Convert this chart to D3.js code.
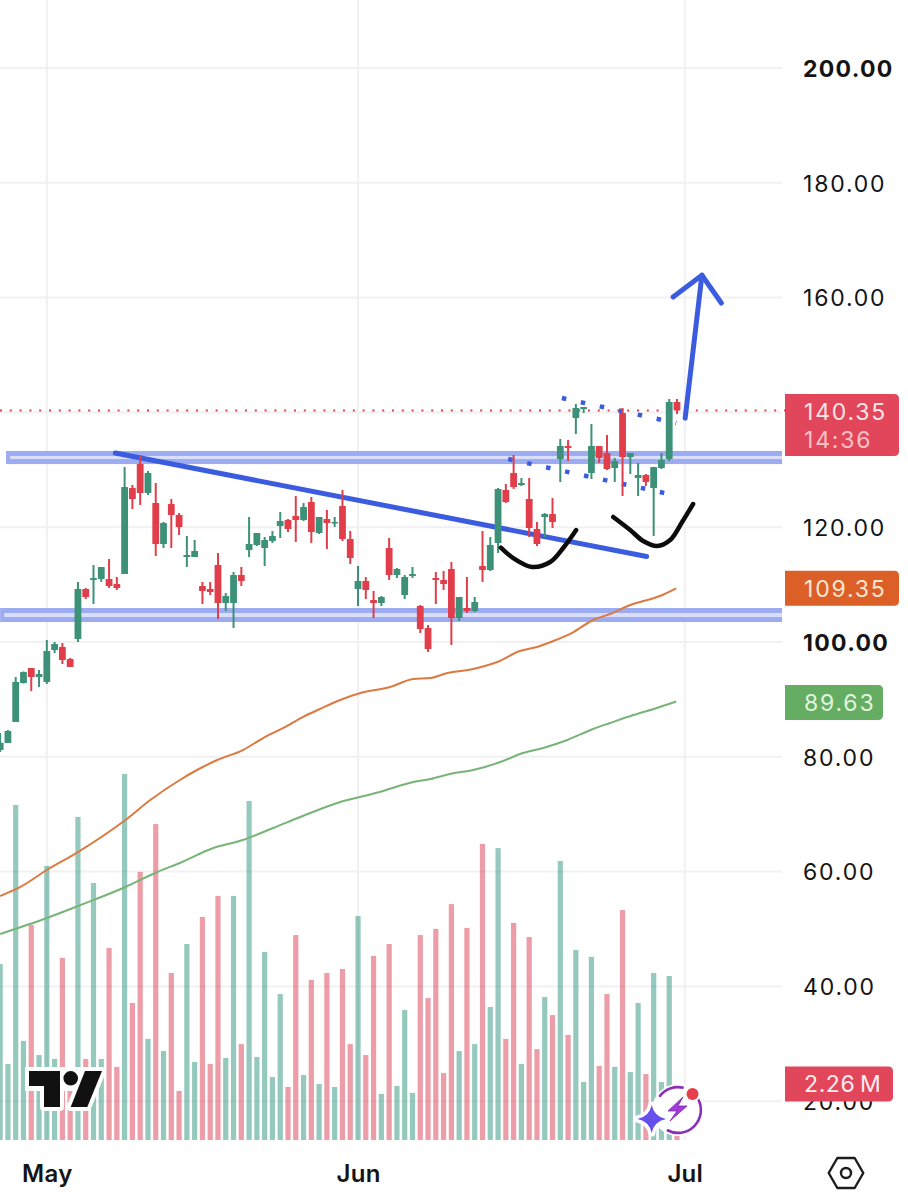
<!DOCTYPE html>
<html>
<head>
<meta charset="utf-8">
<title>Price and volume chart</title>
<script src="https://cdn.jsdelivr.net/npm/d3@7"></script>
<style>
  html, body { margin: 0; padding: 0; background: #fff; }
  svg { display: block; font-family: Inter, "Noto Sans", sans-serif; }
</style>
</head>
<body>
<svg id="chart" width="908" height="1200"></svg>
<script>
// One candle per bar index, price in dollars, volume in millions.
const opens = [81.18,82.40,86.06,92.86,95.47,93.90,93.03,98.61,99.13,97.04,100.52,109.23,110.80,110.98,110.98,110.10,111.85,126.83,131.01,125.96,124.22,117.07,124.04,122.13,114.81,114.81,109.76,109.23,113.41,106.79,106.79,111.67,116.03,116.90,116.38,117.60,120.21,121.25,121.95,121.25,124.39,118.99,121.43,120.73,123.69,117.94,109.23,110.63,107.32,106.79,116.38,111.67,108.19,111.50,106.27,102.44,111.15,110.80,112.72,104.18,105.92,105.40,113.24,112.54,117.25,126.48,129.44,127.35,124.91,119.69,121.78,122.30,131.88,134.15,139.03,140.59,129.44,134.15,132.93,130.31,139.90,132.23,128.57,129.09,126.83,130.31,131.88,141.81];
const closes = [82.46,84.49,93.03,94.77,93.90,94.42,98.43,99.65,96.86,95.64,109.23,107.84,111.15,113.07,109.76,109.41,127.00,124.91,125.96,129.44,117.07,120.73,122.13,120.04,115.16,115.85,108.89,108.71,106.79,108.01,111.67,110.63,117.07,118.99,117.77,118.47,121.08,119.69,121.25,123.52,119.16,121.78,120.73,120.91,117.94,114.63,110.63,109.06,106.79,107.84,111.67,112.72,111.32,111.85,102.26,98.78,110.80,110.10,104.18,107.84,105.40,106.97,112.54,116.90,126.66,124.39,127.00,127.70,119.86,117.07,122.30,120.91,134.15,133.80,140.77,140.94,134.15,132.06,130.14,131.53,132.23,132.93,129.09,127.88,130.49,131.71,141.81,140.35];
const highs = [84.15,84.67,93.90,94.86,95.47,95.12,100.35,100.00,99.83,97.21,110.45,109.41,113.41,113.07,114.46,111.32,130.49,127.35,132.58,129.79,127.70,120.91,124.91,122.47,118.47,117.77,110.45,110.45,115.51,108.54,112.20,113.07,121.78,118.99,118.29,119.34,122.65,121.43,125.44,124.22,125.26,121.78,123.00,121.78,126.48,119.34,113.24,111.32,108.89,108.01,118.12,112.89,111.67,113.07,106.45,102.96,112.20,112.37,113.94,107.84,111.32,107.84,119.34,118.29,126.83,127.53,132.58,128.57,128.57,120.91,122.47,125.09,135.37,135.19,141.46,140.94,137.98,134.15,136.06,132.06,140.77,132.93,131.18,129.27,130.49,132.93,142.33,142.33];
const lows = [80.84,82.40,86.06,92.77,91.46,92.16,92.68,98.08,96.17,95.64,100.00,107.49,106.62,110.45,109.41,109.06,111.85,123.17,123.87,125.61,114.98,116.38,116.38,118.64,113.07,114.81,106.62,108.19,104.01,105.40,102.44,109.76,114.81,116.72,113.24,117.25,118.12,119.16,117.42,121.08,117.25,118.82,116.20,120.04,117.60,113.59,106.27,107.49,104.18,106.27,110.80,111.15,107.49,111.15,101.57,98.26,106.62,109.06,99.48,103.66,105.05,105.23,110.45,112.37,115.51,124.22,126.66,127.18,118.29,116.72,118.29,119.86,127.88,131.53,136.24,139.90,128.40,131.18,129.97,127.88,125.44,129.27,125.44,127.18,118.47,130.14,131.53,139.72];
const volumes = [7.10,3.07,13.52,4.00,8.68,3.43,11.06,3.27,7.35,2.50,13.04,3.27,10.37,3.27,7.75,2.95,14.77,5.53,10.82,4.08,12.75,3.59,6.74,1.98,7.91,3.15,9.00,3.07,9.85,3.31,9.85,3.87,13.68,3.35,7.59,2.54,5.89,2.14,8.27,2.62,6.46,2.26,6.74,2.14,6.90,3.87,9.04,3.43,7.43,1.86,7.91,2.18,5.25,1.90,8.27,5.73,8.52,2.70,9.52,3.59,8.56,3.87,11.95,5.37,11.78,4.08,8.76,3.07,8.19,3.67,5.77,5.04,11.26,4.24,7.67,2.34,7.39,2.99,5.89,2.95,9.28,2.74,5.53,2.66,6.74,2.34,6.62,2.26];

// Moving averages read at selected bars: [bar index, price].
const slowAverage = [[0,49.13],[6,51.92],[10,54.0],[16.1,57.32],[20.2,59.93],[23.1,61.5],[27.4,64.11],[31.2,65.51],[35.1,67.6],[38.9,69.69],[43.7,72.12],[48.8,73.87],[53.1,75.61],[55.3,76.13],[57.8,77.0],[60.8,77.7],[64.3,79.09],[67.2,80.66],[69.8,81.53],[72.9,82.93],[76.2,84.84],[78.4,85.89],[81.4,87.28],[84.4,88.5],[86.9,89.63]];
const fastAverage = [[0,55.75],[2.6,57.32],[6,60.28],[10,63.41],[16.1,68.99],[19.3,72.47],[23.1,75.96],[25.3,77.70],[27.9,79.44],[31.2,81.18],[33.8,83.27],[36.4,85.02],[38.9,86.93],[41.1,88.33],[43.7,89.90],[46.3,91.11],[50.1,92.16],[53.1,93.55],[55.3,93.73],[57.5,94.60],[60.8,95.30],[63.9,96.52],[66.8,98.43],[69,99.13],[71.1,100.17],[73.7,101.74],[76.2,103.83],[78.4,104.88],[81,106.45],[84.8,108.01],[86.9,109.35]];

// Axis labels.
const priceTicks = [20,40,60,80,100,120,140,160,180,200];
const priceLabelled = [20,40,60,80,100,120,160,180,200];
const boldPrices = [100,200];
const monthBars = [6,46,88];
const monthLabels = ["May","Jun","Jul"];

// Hand-drawn annotations, as [bar index, price].
const supportZones = [[0.75,131.0,133.28],[0,103.48,105.92]];
const trendLine = [[14.8,132.93],[83.1,114.9]];
const channelTop = [[72.2,142.5],[86.9,138.15]];
const channelBottom = [[65.3,131.88],[87.15,125.44]];
const firstCup = [[64.36,116.43],[65.94,114.63],[68.38,113.07],[70.7,113.94],[72.37,116.38],[74.04,119.51]];
const secondCup = [[78.8,121.78],[80.98,119.51],[82.65,117.6],[84.45,116.73],[86.12,117.77],[87.66,120.91],[89.07,124.04]];
const arrowShaft = [[88.05,139.0],[90.2,163.9]];
const arrowHead = [[86.5,160.1],[90.2,163.9],[92.7,159.06]];

const lastPrice = 140.35;
const lastVolume = 2.26;
const countdown = "14:36";

const plotRight = 782;
const UP = "#3c9178", DOWN = "#e03e4a", BLUE = "#3c5ce0";

const x = d3.scaleLinear().domain([0, 87]).range([0.14, 677]);
const y = d3.scaleLinear().domain([100, 200]).range([642, 68]);
const vol = d3.scaleLinear().domain([0, lastVolume]).range([1140, 1084]);

const svg = d3.select("#chart");
const isUp = i => closes[i] >= opens[i];
const pathOf = d3.line().x(d => x(d[0])).y(d => y(d[1]));
const smoothPath = d3.line().x(d => x(d[0])).y(d => y(d[1])).curve(d3.curveMonotoneX);
const handPath = d3.line().x(d => x(d[0])).y(d => y(d[1])).curve(d3.curveCatmullRom);

// Grid
const grid = svg.append("g").attr("stroke", "#f1f1f4").attr("stroke-width", 2);
grid.selectAll("line.h").data(priceTicks).join("line").attr("class", "h")
  .attr("x1", 0).attr("x2", plotRight).attr("y1", d => y(d)).attr("y2", d => y(d));
grid.selectAll("line.v").data(monthBars).join("line").attr("class", "v")
  .attr("x1", d => x(d)).attr("x2", d => x(d)).attr("y1", 0).attr("y2", 1140);

// Volume histogram
svg.append("g").selectAll("rect").data(volumes).join("rect")
  .attr("x", (d, i) => x(i) - 2.6)
  .attr("width", 5.2)
  .attr("y", d => vol(d))
  .attr("height", d => vol(0) - vol(d))
  .attr("fill", (d, i) => isUp(i) ? "#2c947c" : "#da3c52")
  .attr("opacity", 0.5);

// Support zones: a solid band with a paler core
const zones = svg.append("g");
supportZones.forEach(([from, lo, hi]) => {
  const left = x(from);
  zones.append("rect").attr("x", left).attr("width", plotRight - left)
    .attr("y", y(hi)).attr("height", y(lo) - y(hi)).attr("fill", "#9dabf1");
  zones.append("rect").attr("x", left + 4).attr("width", plotRight - left - 4)
    .attr("y", y(hi) + 5).attr("height", y(lo) - y(hi) - 10).attr("fill", "#d9dffa");
});

// Moving averages
svg.append("path").attr("d", smoothPath(slowAverage)).attr("fill", "none")
  .attr("stroke", "#78b478").attr("stroke-width", 2);
svg.append("path").attr("d", smoothPath(fastAverage)).attr("fill", "none")
  .attr("stroke", "#dd7a42").attr("stroke-width", 2);

// Last price line
svg.append("line").attr("x1", 0).attr("x2", plotRight + 3)
  .attr("y1", y(lastPrice)).attr("y2", y(lastPrice))
  .attr("stroke", DOWN).attr("stroke-width", 2).attr("stroke-dasharray", "2 7.8");

// Trend line and dotted channel sit under the candles
svg.append("path").attr("d", pathOf(trendLine)).attr("fill", "none")
  .attr("stroke", BLUE).attr("stroke-width", 5).attr("stroke-linecap", "round");
[channelTop, channelBottom].forEach(seg => {
  svg.append("path").attr("d", pathOf(seg)).attr("fill", "none")
    .attr("stroke", BLUE).attr("stroke-width", 4.5).attr("stroke-dasharray", "4.5 14.9");
});

// Candles
const candles = svg.append("g").selectAll("g").data(d3.range(opens.length)).join("g")
  .attr("fill", i => isUp(i) ? UP : DOWN).attr("stroke", i => isUp(i) ? UP : DOWN);
candles.append("line")
  .attr("x1", i => x(i)).attr("x2", i => x(i))
  .attr("y1", i => y(highs[i])).attr("y2", i => y(lows[i]))
  .attr("stroke-width", 2);
candles.append("rect")
  .attr("x", i => x(i) - 3.4).attr("width", 6.8)
  .attr("y", i => y(Math.max(opens[i], closes[i])))
  .attr("height", i => Math.max(1.4, Math.abs(y(opens[i]) - y(closes[i]))))
  .attr("stroke", "none").attr("rx", 0.6);

// Cup sketches and the breakout arrow
[firstCup, secondCup].forEach(seg => {
  svg.append("path").attr("d", handPath(seg)).attr("fill", "none")
    .attr("stroke", "#0c0c0c").attr("stroke-width", 4.5).attr("stroke-linecap", "round");
});
svg.append("path").attr("d", pathOf(arrowShaft)).attr("fill", "none")
  .attr("stroke", BLUE).attr("stroke-width", 5).attr("stroke-linecap", "round");
svg.append("path").attr("d", pathOf(arrowHead)).attr("fill", "none")
  .attr("stroke", BLUE).attr("stroke-width", 5).attr("stroke-linecap", "round").attr("stroke-linejoin", "round");

// Price axis
const priceAxis = d3.axisRight(y).tickValues(priceLabelled).tickSize(0).tickPadding(0).tickFormat(d3.format(".2f"));
const pa = svg.append("g").attr("transform", "translate(803,0)").call(priceAxis);
pa.select(".domain").remove();
pa.selectAll("text")
  .attr("font-family", "Inter, sans-serif").attr("font-size", 23)
  .attr("fill", "#141414").attr("dy", "0.36em")
  .attr("letter-spacing", d => boldPrices.includes(d) ? 1.3 : 1.8)
  .attr("font-weight", d => boldPrices.includes(d) ? 700 : 400);

// Month axis
const monthAxis = d3.axisBottom(x).tickValues(monthBars).tickSize(0).tickPadding(0)
  .tickFormat((d, i) => monthLabels[i]);
const ma = svg.append("g").attr("transform", "translate(0,1173)").call(monthAxis);
ma.select(".domain").remove();
ma.selectAll("text")
  .attr("font-family", "Inter, sans-serif").attr("font-size", 24).attr("font-weight", 600)
  .attr("letter-spacing", 0.3)
  .attr("fill", "#141414").attr("dy", "0.36em").attr("y", 0);

// Value tags on the price axis: square on the left, rounded on the right
function tag(x0, x1, cy, h, fill) {
  const top = cy - h / 2, r = 5;
  svg.append("path").attr("fill", fill).attr("d",
    `M${x0},${top}H${x1 - r}Q${x1},${top} ${x1},${top + r}V${top + h - r}Q${x1},${top + h} ${x1 - r},${top + h}H${x0}Z`);
}
function tagText(cy, text, fill, spacing) {
  svg.append("text").attr("x", 804).attr("y", cy).attr("dy", "0.36em")
    .attr("font-family", "Inter, sans-serif").attr("font-size", 23)
    .attr("letter-spacing", spacing === undefined ? 1.8 : spacing)
    .attr("fill", fill).text(text);
}
tag(785, 899, y(lastPrice) + 14.5, 62, "#e2465a");
tagText(y(lastPrice) + 1, lastPrice.toFixed(2), "#fbe4e6");
tagText(y(lastPrice) + 29, countdown, "#f9c2c6");

const fastLast = fastAverage[fastAverage.length - 1][1];
const slowLast = slowAverage[slowAverage.length - 1][1];
tag(785, 899, y(fastLast), 35, "#dc5f28");
tagText(y(fastLast), fastLast.toFixed(2), "#fce6d2");
tag(785, 883, y(slowLast) + 1, 35, "#65ad63");
tagText(y(slowLast) + 1, slowLast.toFixed(2), "#e2f4de");
tag(785, 893, vol(lastVolume), 35, "#e2465a");
tagText(vol(lastVolume), lastVolume.toFixed(2) + "\u2009M", "#fdeeee", 0.6);

// Settings hexagon
const hexRadius = 17.3;
const hex = d3.range(6).map(k => {
  const a = k * Math.PI / 3;
  return [846 + hexRadius * Math.cos(a), 1173 + hexRadius * Math.sin(a)];
});
svg.append("polygon").attr("points", hex.join(" ")).attr("fill", "none")
  .attr("stroke", "#1c1c1c").attr("stroke-width", 2.4).attr("stroke-linejoin", "round");
svg.append("circle").attr("cx", 846).attr("cy", 1173).attr("r", 5)
  .attr("fill", "none").attr("stroke", "#1c1c1c").attr("stroke-width", 2.4);

// Brand mark, bottom left
const brand = svg.append("g");
const brandParts = [
  { d: "M29,1071H60V1107H44V1086H29Z" },
  { d: "M85,1071H102L87.3,1107H70.7Z" },
  { d: "M63.4,1078.3a7.3,7.3 0 1,0 14.6,0a7.3,7.3 0 1,0 -14.6,0Z" }
];
brand.append("rect").attr("x", 25).attr("y", 1067).attr("width", 60).attr("height", 24).attr("fill", "#fff");
brand.selectAll("path.halo").data(brandParts).join("path").attr("class", "halo").attr("d", d => d.d)
  .attr("fill", "#fff").attr("stroke", "#fff").attr("stroke-width", 8).attr("stroke-linejoin", "round");
brand.selectAll("path.ink").data(brandParts).join("path").attr("class", "ink").attr("d", d => d.d)
  .attr("fill", "#111");

// Assistant badge, bottom right
const badge = svg.append("g");
badge.append("circle").attr("cx", 678).attr("cy", 1110).attr("r", 26).attr("fill", "#fff");
const arc = d3.arc().innerRadius(21.6).outerRadius(24.2);
badge.append("path").attr("transform", "translate(678,1110)").attr("fill", "#8a2fb6")
  .attr("d", arc({ startAngle: -0.95, endAngle: 0.25 }));
badge.append("path").attr("transform", "translate(678,1110)").attr("fill", "#8a2fb6")
  .attr("d", arc({ startAngle: 1.05, endAngle: 3.65 }));
badge.append("path").attr("fill", "#a23bd6").attr("stroke", "#7f2aad").attr("stroke-width", 0.8)
  .attr("d", "M683,1097L668,1111H677L670,1121L687,1106H678Z");
const star = "M651.7,1105Q654,1116.5 666,1119Q654,1121.5 651.7,1133Q649.4,1121.5 637.5,1119Q649.4,1116.5 651.7,1105Z";
badge.append("path").attr("d", star).attr("fill", "#fff").attr("stroke", "#fff")
  .attr("stroke-width", 7).attr("stroke-linejoin", "round");
badge.append("path").attr("d", star).attr("fill", "#6550ee");
badge.append("circle").attr("cx", 692.5).attr("cy", 1094).attr("r", 8).attr("fill", "#fff");
badge.append("circle").attr("cx", 692.5).attr("cy", 1094).attr("r", 6).attr("fill", "#e5404c");
</script>
</body>
</html>
